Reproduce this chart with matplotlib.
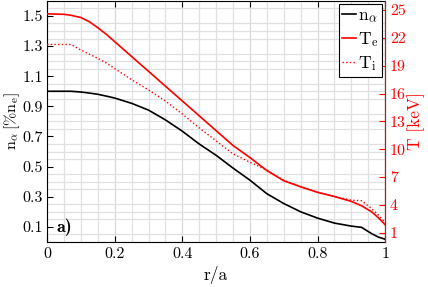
import matplotlib
matplotlib.use("Agg")
import matplotlib.pyplot as plt
import numpy as np
from matplotlib.ticker import MultipleLocator, FixedLocator

# profiles
r = [0, 0.05, 0.07, 0.1, 0.125, 0.15, 0.175, 0.2, 0.25, 0.3, 0.35, 0.4, 0.45, 0.5,
     0.55, 0.6, 0.65, 0.7, 0.75, 0.8, 0.85, 0.9, 0.93, 0.96, 0.98, 1.0]
n_alpha = [1.0, 1.0, 1.0, 0.995, 0.988, 0.98, 0.968, 0.955, 0.92, 0.875, 0.81, 0.735,
           0.65, 0.575, 0.49, 0.41, 0.32, 0.255, 0.2, 0.158, 0.125, 0.105, 0.097,
           0.055, 0.032, 0.018]
T_e = [24.6, 24.55, 24.45, 24.2, 23.75, 23.1, 22.4, 21.6, 20.0, 18.4, 16.8, 15.2,
       13.6, 12.0, 10.4, 9.1, 7.7, 6.6, 5.95, 5.35, 4.9, 4.37, 3.9, 3.25, 2.6, 1.85]
T_i = [21.3, 21.3, 21.3, 20.7, 20.25, 19.8, 19.3, 18.7, 17.5, 16.4, 15.2, 13.8,
       12.3, 10.9, 9.5, 8.6, 7.75, 6.65, 5.95, 5.35, 4.9, 4.5, 4.45, 3.6, 2.9, 2.1]

x_ticks = [0, 0.2, 0.4, 0.6, 0.8, 1]
left_ticks = [0.1, 0.3, 0.5, 0.7, 0.9, 1.1, 1.3, 1.5]
right_ticks = [1, 4, 7, 10, 13, 16, 19, 22, 25]

plt.rcParams["font.family"] = "serif"
plt.rcParams["font.serif"] = ["cmr10"]
plt.rcParams["mathtext.fontset"] = "cm"
plt.rcParams["axes.formatter.use_mathtext"] = True
plt.rcParams["font.size"] = 11.5

red = "#ff0000"

fig = plt.figure(figsize=(4.28, 2.87), dpi=100)
ax = fig.add_axes([0.110, 0.157, 0.790, 0.840])
ax2 = ax.twinx()

ln1, = ax.plot(r, n_alpha, color="black", lw=1.2, label=r"$\mathrm{n}_{\alpha}$")
ln2, = ax2.plot(r, T_e, color=red, lw=1.2, label=r"$\mathrm{T}_{\mathrm{e}}$")
ln3, = ax2.plot(r, T_i, color=red, lw=1.0, ls=":", label=r"$\mathrm{T}_{\mathrm{i}}$")

ax.set_xlim(0, 1)
ax.set_ylim(0, 1.6)
ax2.set_ylim(0, 26)

ax.xaxis.set_major_locator(FixedLocator(x_ticks))
ax.set_xticklabels([f"{v:g}" for v in x_ticks])
ax.yaxis.set_major_locator(FixedLocator(left_ticks))
ax.set_yticklabels([f"{v:g}" for v in left_ticks])
ax2.yaxis.set_major_locator(FixedLocator(right_ticks))
ax2.set_yticklabels([str(v) for v in right_ticks])

# light grid every 0.05 on both axes
ax.xaxis.set_minor_locator(MultipleLocator(0.05))
ax.yaxis.set_minor_locator(MultipleLocator(0.05))
ax.grid(which="minor", color="#e0e0e0", lw=0.9)
ax.grid(which="major", axis="x", color="#d8d8d8", lw=0.9)
ax.set_axisbelow(True)
ax.tick_params(which="minor", length=0)
ax.tick_params(which="major", direction="in", length=4, top=True, width=0.8)
ax.tick_params(axis="y", pad=3)

ax2.tick_params(axis="y", direction="in", length=4, colors=red, width=0.8)
ax2.spines["right"].set_color(red)
for s in ["left", "top", "bottom"]:
    ax2.spines[s].set_visible(False)

ax.set_xlabel("r/a", fontsize=12.5, labelpad=4)
ax.set_ylabel(r"$\mathrm{n}_{\alpha}\,[\%\mathrm{n}_{\mathrm{e}}]$", fontsize=11.5)
ax.yaxis.set_label_coords(-0.073, 0.5)
ax2.set_ylabel("T [keV]", color=red, fontsize=12.5, labelpad=1)

ax.text(0.027, 0.1, "a)", fontfamily="cmb10", fontsize=13, va="center", ha="left")

leg = ax2.legend(handles=[ln1, ln2, ln3], loc="upper right", fontsize=12.5,
                 handlelength=0.8, handletextpad=0.1, borderpad=0.2, labelspacing=0.3,
                 fancybox=False, framealpha=1, borderaxespad=0.2)
leg.get_frame().set_edgecolor("black")
leg.get_frame().set_linewidth(0.8)

fig.savefig("out.png", dpi=100)
